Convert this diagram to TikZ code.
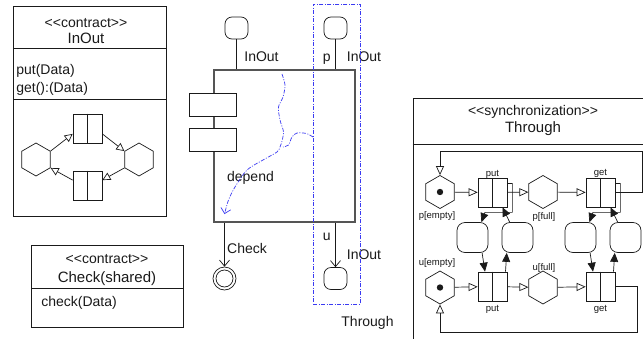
\documentclass[tikz,border=0pt]{standalone}
\usepackage{fontspec}
\setmainfont{Liberation Sans}
\usepackage{tikz}
\usetikzlibrary{arrows.meta,positioning,calc,shapes.geometric}
\definecolor{ink}{HTML}{1A1A1A}
\definecolor{frame}{HTML}{555555}
\definecolor{depblue}{HTML}{3B3BF2}
\newcommand{\stereo}[1]{<\kern0pt<#1>\kern0pt>}
\newcommand{\bodysize}{\fontsize{14}{16}\selectfont}
\newcommand{\titlesize}{\fontsize{15}{17}\selectfont}
\newcommand{\tinysize}{\fontsize{9.5}{11}\selectfont}

\begin{document}
\begin{tikzpicture}[x=1pt, y=-1pt, line width=0.7pt,
  txt/.style={font=\bodysize, text=ink, inner sep=0pt, anchor=base},
  ttl/.style={font=\titlesize, text=ink, inner sep=0pt, anchor=base},
  small/.style={font=\tinysize, text=ink, inner sep=0pt, anchor=base},
  box/.style={draw=ink, anchor=north west, inner sep=0pt},
  trans/.style={draw=ink, fill=white, minimum width=29pt, minimum height=29pt, inner sep=0pt},
  hexa/.style={draw=ink, regular polygon, regular polygon sides=6, shape border rotate=30,
               minimum size=33pt, inner sep=0pt},
  place/.style={draw=ink, rounded corners=8pt, minimum width=31pt, minimum height=30pt, inner sep=0pt},
  port/.style={draw=ink, rounded corners=7pt, minimum width=23pt, minimum height=22pt, inner sep=0pt},
  arc/.style={draw=ink, -{Triangle[open, length=9pt, width=8pt]}},
  arcsm/.style={draw=ink, -{Triangle[open, length=8pt, width=8pt]}},
  inarc/.style={draw=ink, -{Triangle[length=9pt, width=8pt]}},
  vee/.style={draw=ink, -{Straight Barb[length=6pt, width=10pt]}},
  dep/.style={draw=depblue, dash pattern=on 4pt off 1.5pt on 1pt off 1.5pt}]
  \useasboundingbox (0,0) rectangle (643,338);
  \fill[white] (0,0) rectangle (643,338);
  \clip (0,0) rectangle (643,338);

  % contract InOut
  \node[box, minimum width=153pt, minimum height=210pt] (inout) at (13,6) {};
  \draw[ink] (inout.north west) ++(0,42) -- ++(153,0);
  \draw[ink] (inout.north west) ++(0,93) -- ++(153,0);
  \node[txt] (inoutst) at (86,27.5) {\stereo{contract}};
  \node[ttl] (inoutname) at (86,43) {InOut};
  \node[txt, anchor=base west] (putop) at (16,74.7) {put(Data)};
  \node[txt, anchor=base west] (getop) at (16,92) {get():(Data)};
  \node[trans] (t1) at (87.5,128.5) {};
  \node[trans] (t2) at (87.5,185.5) {};
  \foreach \t in {t1,t2}{\draw[ink] (\t.north) -- (\t.south);}
  \node[hexa] (h1) at (36,159.5) {};
  \node[hexa] (h2) at (139,159.5) {};
  \draw[arcsm] (h1.30) -- (t1.200);
  \draw[arcsm] (t1.340) -- (h2.150);
  \draw[arcsm] (h2.210) -- (t2.20);
  \draw[arcsm] (t2.160) -- (h1.330);

  % contract Check
  \node[box, minimum width=152pt, minimum height=82pt] (check) at (31,245) {};
  \draw[ink] (check.north west) ++(0,43) -- ++(152,0);
  \node[txt] (checkst) at (107,263.5) {\stereo{contract}};
  \node[ttl] (checkname) at (107,282.5) {Check(shared)};
  \node[txt, anchor=base west] (checkop) at (41,306.7) {check(Data)};

  % component with its ports
  \node[box, draw=frame, line width=1.6pt, minimum width=141pt, minimum height=152pt] (comp) at (213,69) {};
  \node[draw=ink, fill=white, minimum width=47pt, minimum height=23pt, inner sep=0pt] (ic1) at (212.5,104.5) {};
  \node[draw=ink, fill=white, minimum width=47pt, minimum height=23pt, inner sep=0pt] (ic2) at (212.5,139.5) {};
  \node[port] (pin) at (236.5,28) {};
  \node[port] (pp) at (335.5,28) {};
  \node[port] (pu) at (335.5,278.5) {};
  \node[draw=ink, circle, minimum size=23pt, inner sep=0pt] (fin) at (224.5,278.5) {};
  \node[draw=ink, circle, minimum size=17pt, inner sep=0pt] (fin2) at (fin) {};
  \draw[ink] (pin) -- (pin |- comp.north);
  \draw[ink] (pp) -- (pp |- comp.north);
  \draw[vee] (pu |- comp.south) -- (pu);
  \draw[vee] (fin |- comp.south) -- (fin);
  \node[txt] (lin) at (261.5,61.3) {InOut};
  \node[txt] (lp) at (326.7,61.3) {p};
  \node[txt] (lpin) at (364,61.3) {InOut};
  \node[txt] (lu) at (326.7,240.7) {u};
  \node[txt] (luin) at (364,259.3) {InOut};
  \node[txt] (lcheck) at (247,253.3) {Check};
  \node[txt] (ldep) at (250.5,181) {depend};

  % through zone and dependency
  \node[draw=depblue, dash pattern=on 4pt off 1.5pt on 1pt off 1.5pt, anchor=north west,
        minimum width=47pt, minimum height=300pt, inner sep=0pt] (zone) at (313,4) {};
  \node[txt] (lzone) at (367.5,326) {Through};
  \coordinate (dtop) at (282,74);
  \coordinate (dside) at (313,137);
  \coordinate (dtip) at (224.5,214);
  \draw[dep, -{Straight Barb[length=5pt, width=10pt]}] plot[smooth] coordinates
        {(dtop) (285,85) (283,97) (278.5,107) (280,120) (283.5,132) (281.5,143) (280,147)
         (277,152) (263,160) (247,170) (235,187) (228.5,200) (dtip)};
  \draw[dep] plot[smooth] coordinates
        {(dside) (306.5,133.5) (297,133) (292,137) (288.5,145) (283,147)};

  % synchronization Through
  \node[box, minimum width=240.5pt, minimum height=262pt] (sync) at (412.5,98) {};
  \draw[ink] (sync.north west) ++(0,46) -- ++(240.5,0);
  \node[txt] (syncst) at (533,115) {\stereo{synchronization}};
  \node[ttl] (syncname) at (533,132.7) {Through};
  \node[hexa] (pe) at (440,192) {};
  \node[hexa] (pf) at (543,192) {};
  \node[hexa] (ue) at (440,287.5) {};
  \node[hexa] (uf) at (543,287.5) {};
  \fill[ink] (pe) circle (3.2pt) (ue) circle (3.2pt);
  \node[trans] (putA) at (492.5,192.5) {};
  \node[trans] (getA) at (600.5,192.5) {};
  \node[trans] (putB) at (492.5,286.5) {};
  \node[trans] (getB) at (600.5,286.5) {};
  \foreach \t in {putA,getA,putB,getB}{\draw[ink] (\t.north) -- (\t.south);}
  \node[place] (q1) at (472.5,237.5) {};
  \node[place] (q2) at (517.5,237.5) {};
  \node[place] (q3) at (580.5,237.5) {};
  \node[place] (q4) at (625.5,237.5) {};
  \node[small] (lpe) at (437,218.7) {p[empty]};
  \node[small] (lpf) at (544,219) {p[full]};
  \node[small] (lue) at (437,265) {u[empty]};
  \node[small] (luf) at (544,270) {u[full]};
  \node[small] (lputA) at (492.5,176) {put};
  \node[small] (lgetA) at (600.5,175.5) {get};
  \node[small] (lputB) at (492.5,311.7) {put};
  \node[small] (lgetB) at (600.5,311.7) {get};
  \draw[arc] (pe) -- (putA);
  \draw[arc] (putA) -- (pf);
  \draw[arc] (pf) -- (getA);
  \draw[arc] (ue) -- (putB);
  \draw[arc] (putB) -- (uf);
  \draw[arc] (uf) -- (getB);
  \coordinate (fbA) at (642.5,151);
  \coordinate (fbB) at (637,332);
  \draw[arc] (getA.east) -| (fbA) -| (pe.90);
  \draw[arc] (getB.east) -| (fbB) -| (ue.-90);
  \foreach \t/\a/\b/\u in {putA/q1/q2/putB, getA/q3/q4/getB}{
    \draw[inarc] ($(\t.east)+(0,-9)$) -- ++(5,0) |- ($(\t.south)+(-7.5,5)$) -- (\a.60);
    \draw[inarc] (\b.117) -- ($(\t.south)+(10,0)$);
    \draw[inarc] (\a.-58) -- ($(\u.north)+(-7.5,0)$);
    \draw[inarc] ($(\u.north)+(13,0)$) -- (\b.235);}
\end{tikzpicture}
\end{document}
